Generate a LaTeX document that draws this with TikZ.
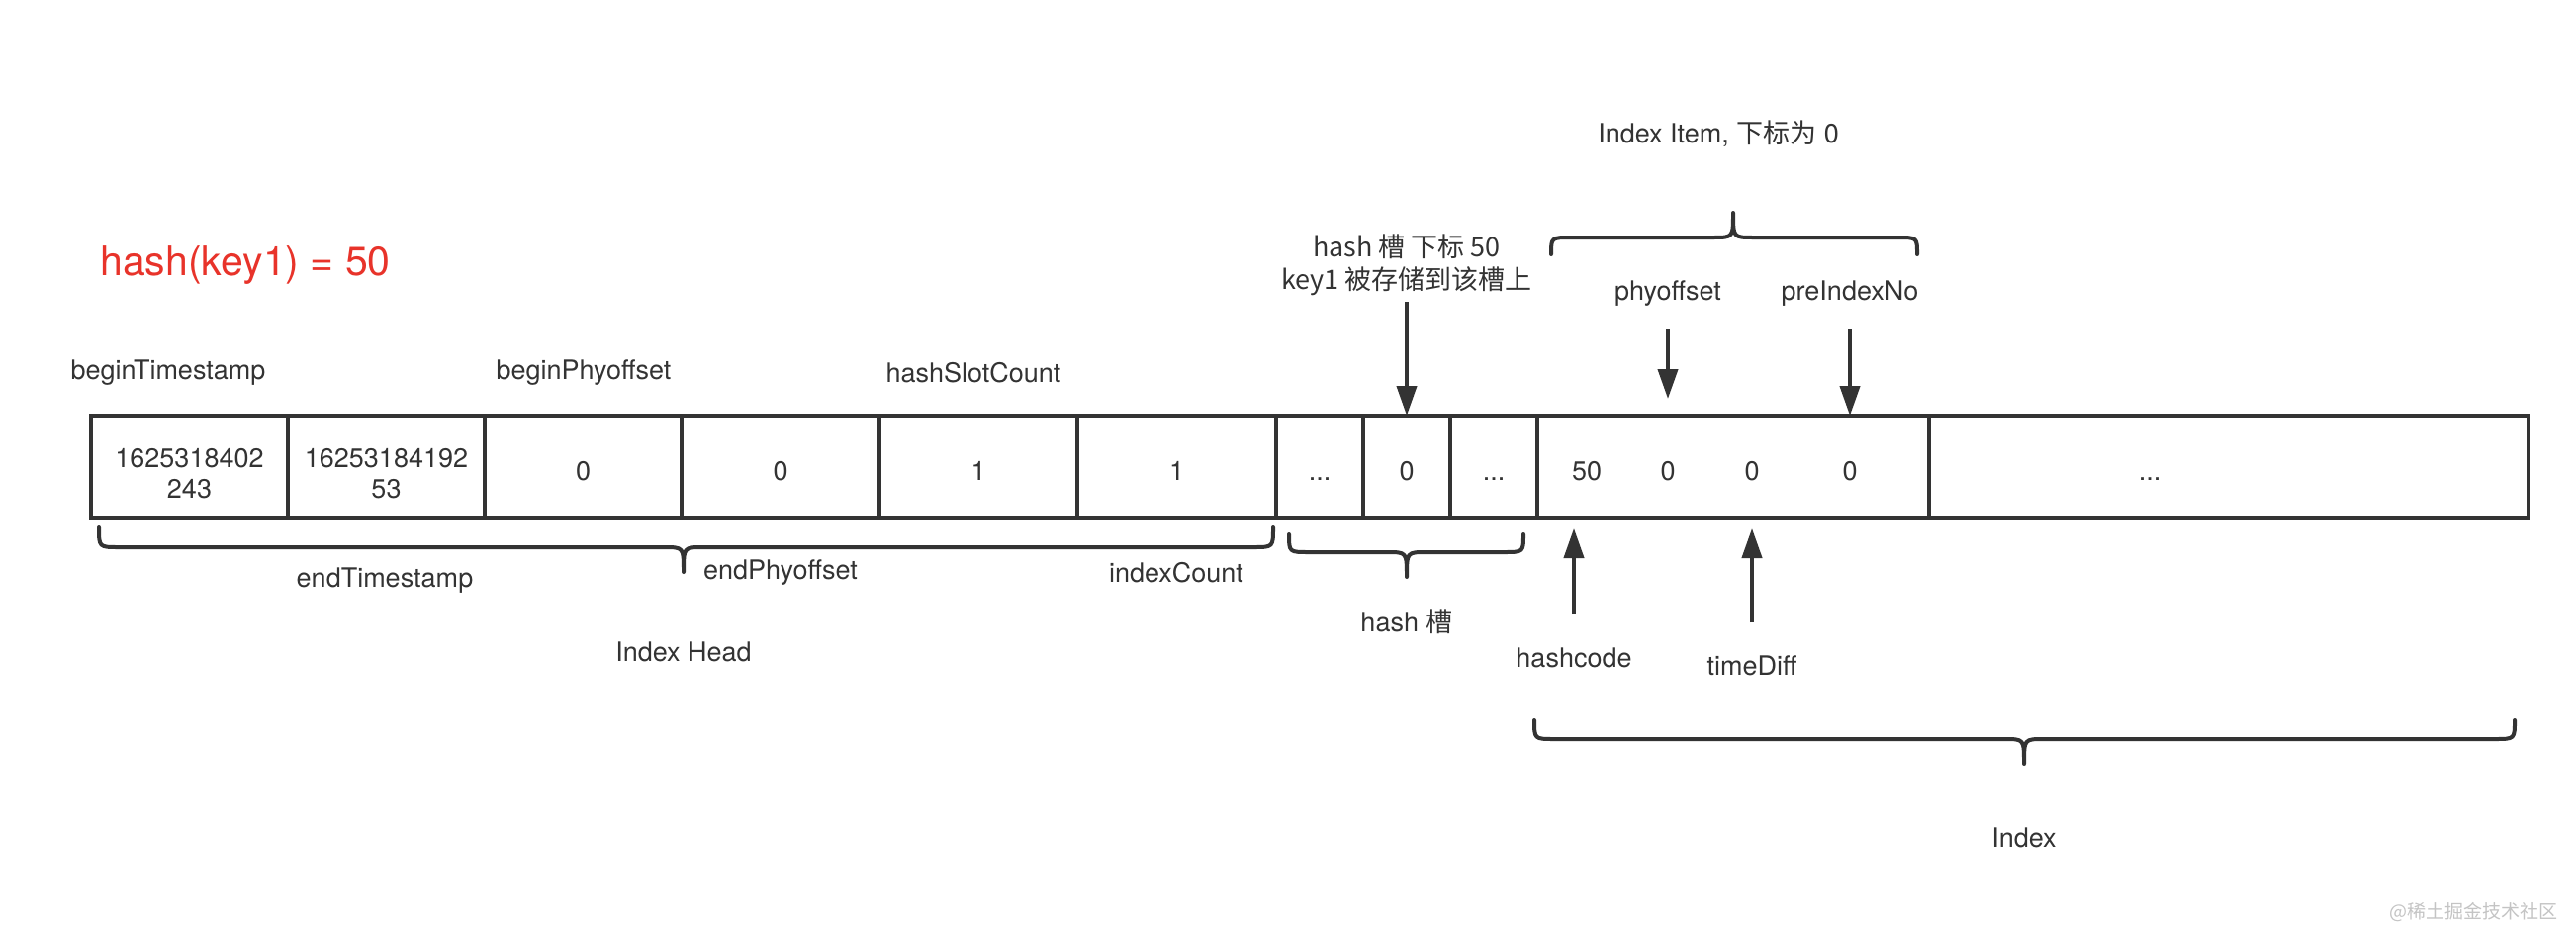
\documentclass[tikz,border=0pt]{standalone}
\usepackage{fontspec}
\setmainfont{TeX Gyre Heros}
\newfontfamily\cjk{Noto Sans CJK SC}
\usetikzlibrary{arrows.meta}
\definecolor{ink}{HTML}{333333}
\definecolor{redtxt}{HTML}{E8332A}
\definecolor{wmark}{HTML}{C4C4C4}
\begin{document}
\begin{tikzpicture}[x=1pt,y=-1pt,
  every node/.style={text=ink, font=\fontsize{27}{31}\selectfont, inner sep=0pt, outer sep=0pt},
  cell/.style={draw=ink, line width=4pt, minimum height=103pt},
  arr/.style={draw=ink, line width=4pt, -{Triangle[length=30pt,width=20pt]}},
  brace/.style={draw=ink, line width=4pt, line cap=round, line join=round}
]
\fill[white] (0,0) rectangle (2604,958);
\useasboundingbox (0,0) rectangle (2604,958);

% red title
\node[text=redtxt, font=\fontsize{41}{48}\selectfont] (title) at (248,268) {hash(key1) = 50};

% cells
\node[cell, minimum width=199pt] (c1) at (191.5,471.5) {};
\node[cell, minimum width=199pt] (c2) at (390.5,471.5) {};
\node[cell, minimum width=199pt] (c3) at (589.5,471.5) {};
\node[cell, minimum width=200pt] (c4) at (789,471.5) {};
\node[cell, minimum width=200pt] (c5) at (989,471.5) {};
\node[cell, minimum width=201pt] (c6) at (1189.5,471.5) {};
\node[cell, minimum width=88pt] (s1) at (1334,471.5) {};
\node[cell, minimum width=88pt] (s2) at (1422,471.5) {};
\node[cell, minimum width=88pt] (s3) at (1510,471.5) {};
\node[cell, minimum width=396pt] (it) at (1752,471.5) {};
\node[cell, minimum width=606pt] (rest) at (2253,471.5) {};

% cell texts
\node[align=center] (t1) at (191.5,479) {1625318402\\243};
\node[align=center] (t2) at (390.5,479) {16253184192\\53};
\node (t3) at (589.5,476) {0};
\node (t4) at (789,476) {0};
\node (t5) at (989,476) {1};
\node (t6) at (1189.5,476) {1};
\node (t7) at (1334,476) {\vphantom{0}...};
\node (t8) at (1422,476) {0};
\node (t9) at (1510,476) {\vphantom{0}...};
\node (restdots) at (2173,476) {\vphantom{0}...};
\node (v1) at (1604,476) {50};
\node (v2) at (1686,476) {0};
\node (v3) at (1771,476) {0};
\node (v4) at (1870,476) {0};

% top labels
\node (bts) at (170,377) {beginTimestamp};
\node (bpo) at (590,377) {beginPhyoffset};
\node (hsc) at (984,377) {hashSlotCount};

% bottom labels
\node (ets) at (389,587) {endTimestamp};
\node (epo) at (789,579) {endPhyoffset};
\node (ic) at (1189,579) {indexCount};
\node (ih) at (691,659) {Index Head};
\node (hs) at (1422,628) {hash {\cjk 槽}};
\node (hc) at (1591,665) {hashcode};
\node (td) at (1771,673) {timeDiff};
\node (ix) at (2046,847) {Index};

% item labels
\node (item) at (1737,135) {Index Item, {\cjk 下标为} 0};
\node (po) at (1686,297) {phyoffset};
\node (pin) at (1870,297) {preIndexNo};
\node[font=\cjk\fontsize{27}{33}\selectfont, align=center] (slot) at (1422,268) {hash 槽 下标 50\\key1 被存储到该槽上};

% watermark
\node[text=wmark, font=\cjk\fontsize{19}{22}\selectfont] (wm) at (2500,922) {@稀土掘金技术社区};

% arrows
\coordinate (a1) at (1422,305);
\draw[arr] (a1) -- (s2.north);
\coordinate (a2) at (1686,332);
\coordinate (a2e) at (1686,403);
\draw[arr] (a2) -- (a2e);
\coordinate (a3) at (1870,332);
\draw[arr] (a3) -- (a3 |- it.north);
\coordinate (a4) at (1591,620);
\coordinate (a4e) at (1591,534);
\draw[arr] (a4) -- (a4e);
\coordinate (a5) at (1771,629);
\coordinate (a5e) at (1771,534);
\draw[arr] (a5) -- (a5e);

% braces (bottom, tip down)
\draw[brace] (100,533) .. controls (100,553) .. (120,553) -- (671,553) .. controls (691,553) .. (691,578)
             .. controls (691,553) .. (711,553) -- (1267,553) .. controls (1287,553) .. (1287,533);
\draw[brace] (1303,540) .. controls (1303,558) .. (1323,558) -- (1402,558) .. controls (1422,558) .. (1422,583)
             .. controls (1422,558) .. (1442,558) -- (1520,558) .. controls (1540,558) .. (1540,540);
\draw[brace] (1551,728) .. controls (1551,747) .. (1571,747) -- (2026,747) .. controls (2046,747) .. (2046,772)
             .. controls (2046,747) .. (2066,747) -- (2522,747) .. controls (2542,747) .. (2542,728);
% brace (top, tip up)
\draw[brace] (1568,257) .. controls (1568,240) .. (1588,240) -- (1732,240) .. controls (1752,240) .. (1752,215)
             .. controls (1752,240) .. (1772,240) -- (1918,240) .. controls (1938,240) .. (1938,257);
\end{tikzpicture}
\end{document}
